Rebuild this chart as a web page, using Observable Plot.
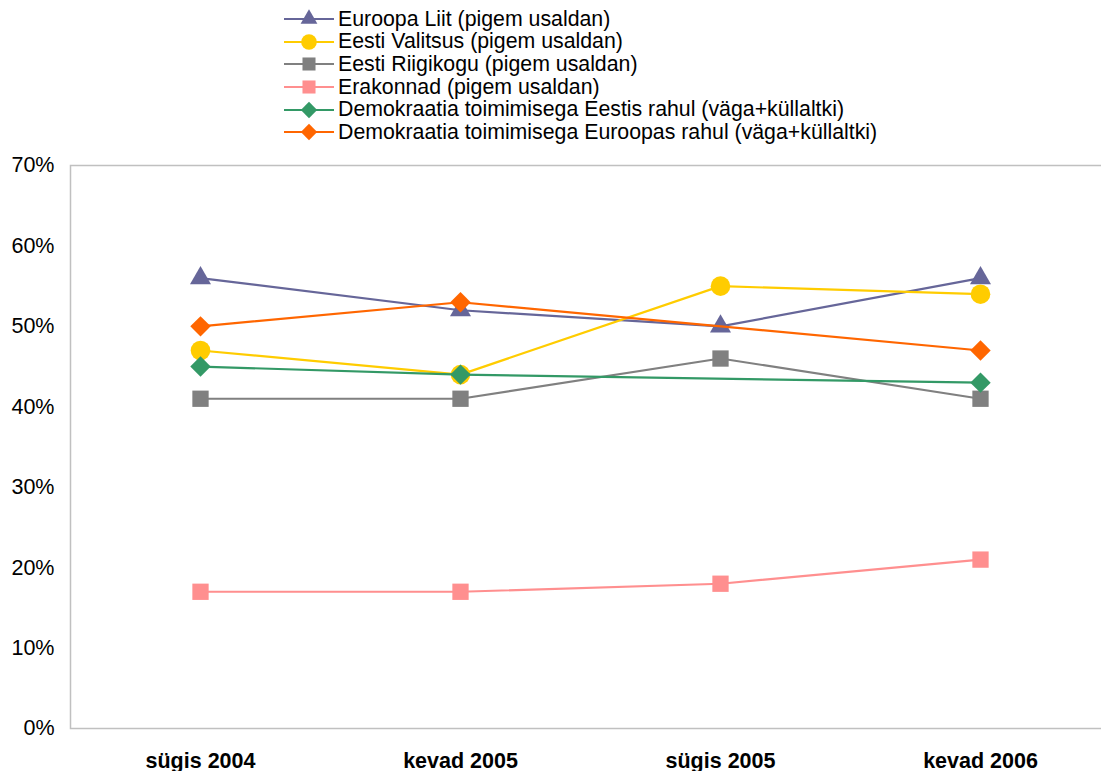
<!DOCTYPE html>
<html>
<head>
<meta charset="utf-8">
<script src="https://cdn.jsdelivr.net/npm/d3@7"></script>
<script src="https://cdn.jsdelivr.net/npm/@observablehq/plot@0.6"></script>
<style>
  html, body { margin: 0; padding: 0; background: #fff; }
  #wrap { position: relative; width: 1101px; height: 771px; font-family: "Liberation Sans", Arial, sans-serif; }
  #legend { position: absolute; left: 284px; top: 8px; font-size: 21.3px; color: #000; }
  .row { display: flex; align-items: center; height: 22.6px; white-space: nowrap; }
  .row svg { flex: none; margin-right: 4px; }
  #chart { position: absolute; left: 0; top: 150px; }
</style>
</head>
<body>
<div id="wrap">
  <div id="legend"></div>
  <div id="chart"></div>
</div>
<script>
const periods = ["sügis 2004", "kevad 2005", "sügis 2005", "kevad 2006"];
const seriesNames = [
  "Euroopa Liit (pigem usaldan)",
  "Eesti Valitsus (pigem usaldan)",
  "Eesti Riigikogu (pigem usaldan)",
  "Erakonnad (pigem usaldan)",
  "Demokraatia toimimisega Eestis rahul (väga+küllaltki)",
  "Demokraatia toimimisega Euroopas rahul (väga+küllaltki)"
];
const euroopaLiit = [56, 52, 50, 56];
const eestiValitsus = [47, 44, 55, 54];
const eestiRiigikogu = [41, 41, 46, 41];
const erakonnad = [17, 17, 18, 21];
const demokraatiaEestis = [45, 44, null, 43];
const demokraatiaEuroopas = [50, 53, null, 47];
const yTicks = [0, 10, 20, 30, 40, 50, 60, 70];

const seriesValues = [euroopaLiit, eestiValitsus, eestiRiigikogu, erakonnad, demokraatiaEestis, demokraatiaEuroopas];
const colors = ["#666699", "#FFCC00", "#808080", "#FF8F8F", "#339966", "#FF6600"];
const symbols = ["triangle", "circle", "square", "square", "diamond2", "diamond2"];
const radii = [7.8, 9.8, 9.2, 9.2, 9.2, 9.2];
const d3Symbols = {triangle: d3.symbolTriangle, circle: d3.symbolCircle, square: d3.symbolSquare, diamond2: d3.symbolDiamond2};

const rows = [];
seriesNames.forEach((name, i) => {
  periods.forEach((p, j) => {
    const v = seriesValues[i][j];
    if (v != null) rows.push({series: name, period: p, value: v});
  });
});

// Legend
const legend = document.getElementById("legend");
seriesNames.forEach((name, i) => {
  const row = document.createElement("div");
  row.className = "row";
  const r = radii[i] * 0.8;
  const path = d3.symbol(d3Symbols[symbols[i]], Math.PI * r * r)();
  row.innerHTML = `<svg width="50" height="22"><line x1="0" x2="50" y1="11" y2="11" stroke="${colors[i]}" stroke-width="2.2"/><path transform="translate(25,11)" d="${path}" fill="${colors[i]}"/></svg><span>${name}</span>`;
  legend.appendChild(row);
});

const marks = [
  Plot.frame({stroke: "#c0c0c0", strokeWidth: 1.5})
];
seriesNames.forEach((name, i) => {
  const data = rows.filter(d => d.series === name);
  marks.push(Plot.line(data, {x: "period", y: "value", stroke: colors[i], strokeWidth: 2.2}));
  marks.push(Plot.dot(data, {x: "period", y: "value", symbol: symbols[i], r: radii[i], fill: colors[i], stroke: "none"}));
});

const chart = Plot.plot({
  width: 1101,
  height: 621,
  marginLeft: 70,
  marginRight: -9,
  marginTop: 15,
  marginBottom: 43,
  style: {fontFamily: "'Liberation Sans', Arial, sans-serif", fontSize: "21.5px", color: "#000", background: "#fff", overflow: "visible"},
  x: {type: "point", domain: periods, padding: 0.5, label: null, tickSize: 0, tickPadding: 24},
  y: {domain: [0, 70], ticks: yTicks, tickFormat: d => d + "%", label: null, tickSize: 0, tickPadding: 17},
  marks: [
    ...marks,
    Plot.axisX({tickSize: 0, tickPadding: 24, fontWeight: "bold", fontSize: 21.5, label: null}),
    Plot.axisY({ticks: yTicks, tickFormat: d => d + "%", tickSize: 0, tickPadding: 16, fontSize: 21.5, label: null})
  ]
});
document.getElementById("chart").appendChild(chart);
</script>
</body>
</html>
